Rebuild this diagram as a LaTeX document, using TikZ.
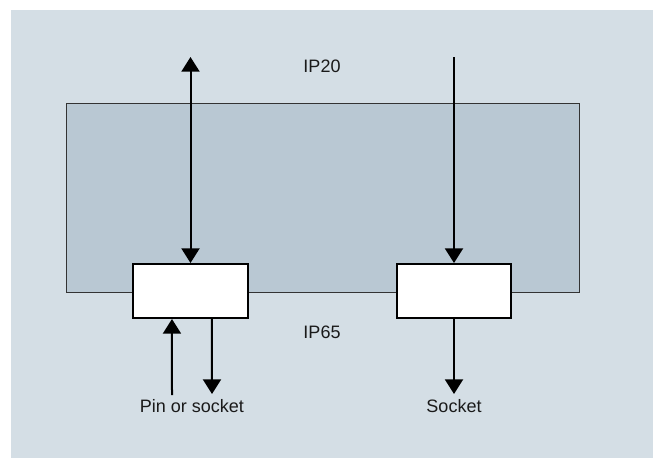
\documentclass[tikz,border=0pt]{standalone}
\usepackage{fontspec}
\setmainfont{Liberation Sans}
\usetikzlibrary{arrows.meta,positioning}
\definecolor{bgblue}{HTML}{D4DEE5}
\definecolor{housing}{HTML}{B9C8D3}
\definecolor{txtdark}{HTML}{1A1A1A}
\begin{document}
\begin{tikzpicture}[x=0.75pt,y=-0.75pt,font=\fontsize{13.5pt}{16pt}\selectfont,text=txtdark]
	\useasboundingbox (0,0) rectangle (653,458);
	\fill[bgblue] (11,10) rectangle (653,458);
	\draw[fill=housing,draw=black!80,line width=0.75pt] (66,103) rectangle (579,292);

	\foreach \x/\n in {190.5/L,454/R}
		\node[draw,fill=white,line width=1.5pt,minimum width=86pt,minimum height=40.5pt,inner sep=0pt](box\n) at (\x,291) {};

	\coordinate (Ltop) at (190.5,57);
	\coordinate (Rtop) at (454,57);
	\coordinate (Lin) at (172,395);
	\coordinate (Lout) at (212,394);
	\coordinate (Rout) at (454,394);

	\path[>={Triangle[width=13.5pt,length=11pt]},line width=1.5pt]
		(Ltop) edge[<->] (boxL.north)
		(Rtop) edge[->] (boxR.north)
		(Lin) edge[->] ([xshift=-13.9pt]boxL.south)
		([xshift=16.1pt]boxL.south) edge[->] (Lout)
		(boxR.south) edge[->] (Rout);

	\node (ip20) at (322,66) {IP20};
	\node (ip65) at (322,332) {IP65};
	\node (pinlabel) at (192,406) {Pin or socket};
	\node (socklabel) at (454,406) {Socket};
\end{tikzpicture}
\end{document}
